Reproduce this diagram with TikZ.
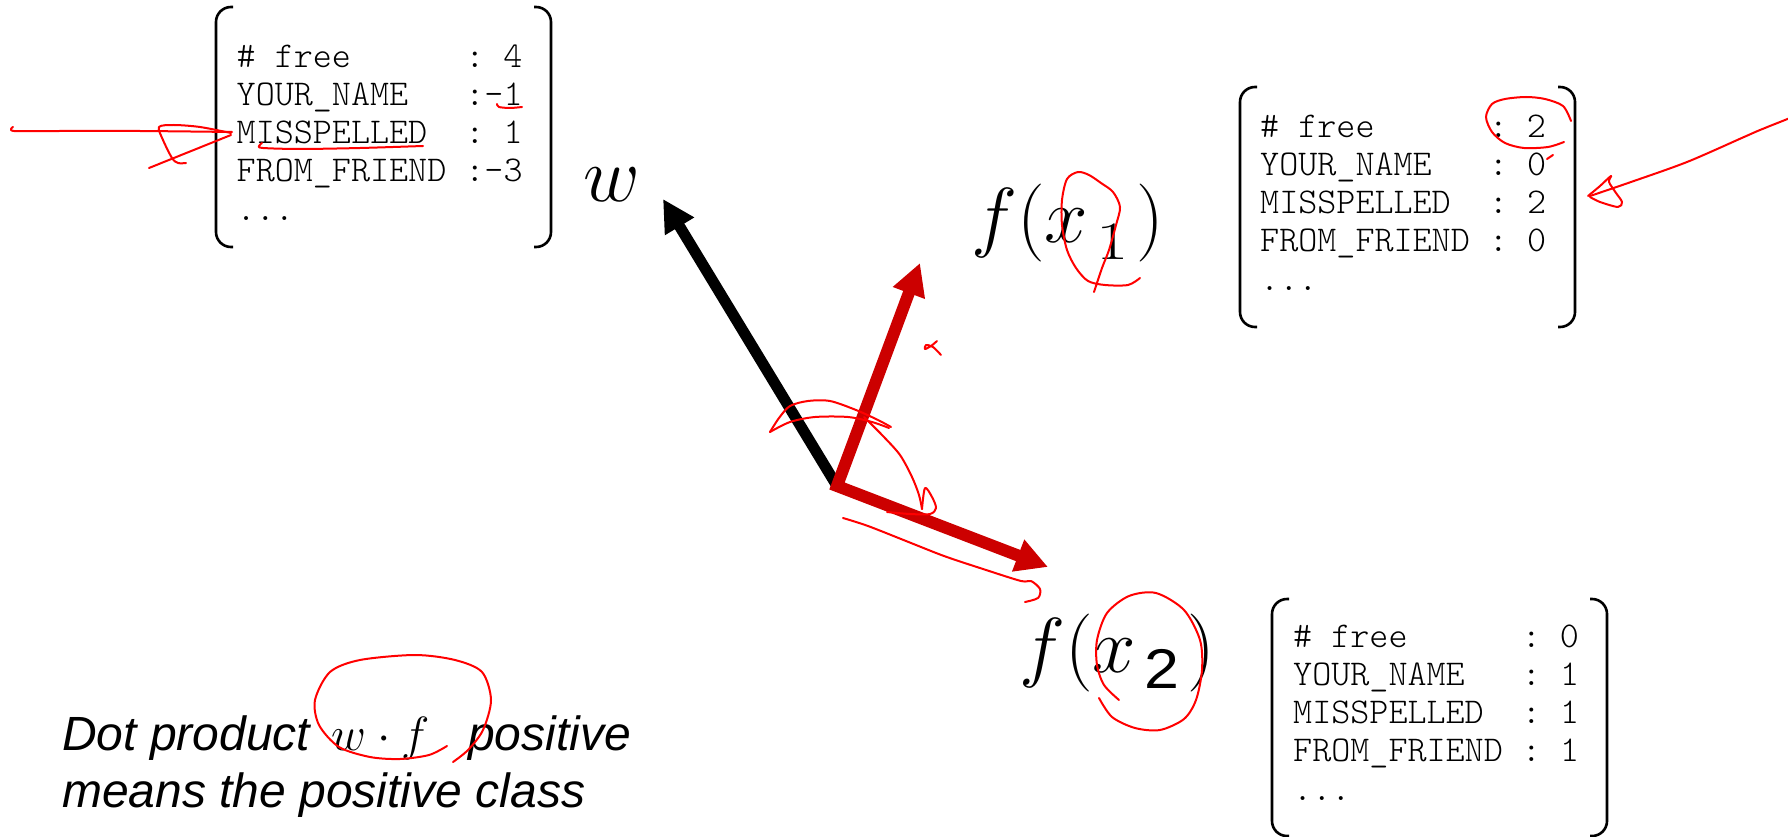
\RequirePackage{fix-cm}
\documentclass[tikz,border=0pt]{standalone}
\usepackage{fontspec}
\newfontfamily\monofont{lmmonolt10-regular.otf}
\newfontfamily\arialfont{Liberation Sans}
\usetikzlibrary{arrows.meta,calc}
\definecolor{vecred}{RGB}{204,0,0}
\definecolor{inkred}{RGB}{255,0,0}
\newcommand\fvbrackets[2]{%
  \draw[brk] ($(#1)+(17,0)$) -- (#1) -- (#1 |- #2) -- ($(#1 |- #2)+(17,0)$);
  \draw[brk] ($(#2 |- #1)+(-17,0)$) -- (#2 |- #1) -- (#2) -- ($(#2)+(-17,0)$);}
\newcommand\bigsub[1]{\raisebox{-5pt}{\hspace{8pt}#1\hspace{8pt}}}
\begin{document}
\begin{tikzpicture}[x=1pt,y=-1pt,
  feat/.style={anchor=north west, inner sep=0pt, align=left,
    font=\monofont\fontsize{36.3}{38.25}\selectfont},
  brk/.style={line width=2.6pt, rounded corners=15pt},
  lbl/.style={inner sep=0pt, font=\fontsize{78}{90}\selectfont},
  blackvec/.style={line width=11pt, -{Triangle[length=32pt,width=32pt]}},
  redvec/.style={draw=vecred, line width=12pt, line join=miter,
    {Triangle[length=32pt,width=32pt]}-{Triangle[length=32pt,width=32pt]}},
  ink/.style={draw=inkred, line width=2pt, line cap=round, line join=round},
]
\useasboundingbox (0,0) rectangle (1788,837);

% feature vectors
\coordinate (A1) at (216,7);    \coordinate (A2) at (551,247);
\coordinate (B1) at (1240,87);  \coordinate (B2) at (1575,327);
\coordinate (C1) at (1272,599); \coordinate (C2) at (1607,836);
\fvbrackets{A1}{A2}
\fvbrackets{B1}{B2}
\fvbrackets{C1}{C2}

\node[feat] (boxA) at (236.5,40.2) {\strut\#~free~~~~~~:~4\\YOUR\_NAME~~~:-1\\MISSPELLED~~:~1\\FROM\_FRIEND~:-3\\...};
\node[feat] (boxB) at (1260,110.2) {\strut\#~free~~~~~~:~2\\YOUR\_NAME~~~:~0\\MISSPELLED~~:~2\\FROM\_FRIEND~:~0\\...};
\node[feat] (boxC) at (1293,620.2) {\strut\#~free~~~~~~:~0\\YOUR\_NAME~~~:~1\\MISSPELLED~~:~1\\FROM\_FRIEND~:~1\\...};

% labels
\node[lbl, anchor=base east] (w) at (640,202) {$w$};
\node[lbl, anchor=base west] (fx1) at (971,243)
  {$f(x_{\bigsub{\scalebox{1.3}[1]{\fontsize{54}{54}\selectfont 1}}})$};
\node[lbl, anchor=base west] (fx2) at (1019,672)
  {$f(x_{\bigsub{\scalebox{1.12}[1]{\arialfont\fontsize{56}{56}\selectfont 2}}})$};

% vectors
\coordinate (O) at (837,486);
\coordinate (Wt) at (663,199);
\coordinate (X1) at (920,263);
\coordinate (X2) at (1048,567);
\draw[blackvec] (O) -- (Wt);
\draw[redvec] (X1) -- (O) -- (X2);

% caption
\node[anchor=north west, inner sep=0pt, align=left,
  font=\arialfont\itshape\fontsize{48}{57}\selectfont] (note) at (62,710.1)
  {\strut Dot product~$\,w\cdot f\;$\hspace{12pt} positive\\means the positive class};

% hand-drawn annotations
\draw[ink] plot[smooth] coordinates {(13,127) (14,131) (60,131) (140,131) (232,132)};
\draw[ink] (149,168) -- (231,135);
\draw[ink] plot[smooth] coordinates {(231,133) (200,127) (174,125) (159,127) (163,140) (172,158) (178,163) (186,163)};
\draw[ink] plot[smooth] coordinates {(497,104) (499,107) (510,108) (522,107)};
\draw[ink] plot[smooth] coordinates {(262,143) (259,146) (263,148) (300,149) (360,148) (423,146)};

\draw[ink] plot[smooth] coordinates {(1571,121) (1563,106) (1545,99) (1526,97) (1505,99) (1492,104) (1486,117) (1492,132) (1505,143) (1524,148) (1548,147) (1564,142)};
\draw[ink] (1547,159) -- (1553,155);
\draw[ink] plot[smooth] coordinates {(1790,118) (1760,130) (1744,137) (1687,162) (1631,182) (1590,196)};
\draw[ink] plot[smooth] coordinates {(1588,196) (1600,186) (1611,176) (1609,182) (1616,193) (1622,202) (1618,207) (1600,202) (1590,197)};

\draw[ink] plot[smooth] coordinates {(1094,292) (1102,268) (1109,250) (1116,225) (1120,207) (1113,192) (1101,183) (1089,175) (1078,172) (1067,179) (1062,200) (1062,225) (1067,250) (1076,268) (1088,281) (1105,285) (1128,285) (1140,278)};
\draw[ink] plot[smooth] coordinates {(937,341) (931,346) (925,349) (926,345) (933,347) (941,355)};

\draw[ink] plot[smooth] coordinates {(770,432) (779,418) (790,406) (808,401) (830,401) (856,410) (878,420) (891,427)};
\draw[ink] plot[smooth] coordinates {(770,432) (790,422) (815,417) (848,417) (872,422) (889,428)};
\draw[ink] plot[smooth] coordinates {(864,417) (883,436) (900,455) (912,477) (919,495) (922,509)};
\draw[ink] plot[smooth] coordinates {(922,509) (925,488) (932,497) (936,508) (930,514) (910,514) (887,512)};
\draw[ink] plot[smooth] coordinates {(843,518) (868,526) (906,541) (944,556) (983,569) (1021,581) (1031,581) (1040,589) (1038,598) (1025,602)};

\draw[ink] plot[smooth] coordinates {(1119,700) (1104,685) (1097,665) (1097,640) (1107,613) (1129,596) (1156,593) (1184,610) (1200,640) (1202,670) (1196,700) (1184,719) (1160,730) (1135,728) (1112,717) (1099,698)};
\draw[ink] plot[smooth] coordinates {(447,746) (429,755) (400,759) (370,757) (339,747) (319,725) (315,700) (330,672) (360,660) (415,655) (455,660) (482,672) (491,700) (483,730) (468,750) (453,762)};
\end{tikzpicture}
\end{document}
